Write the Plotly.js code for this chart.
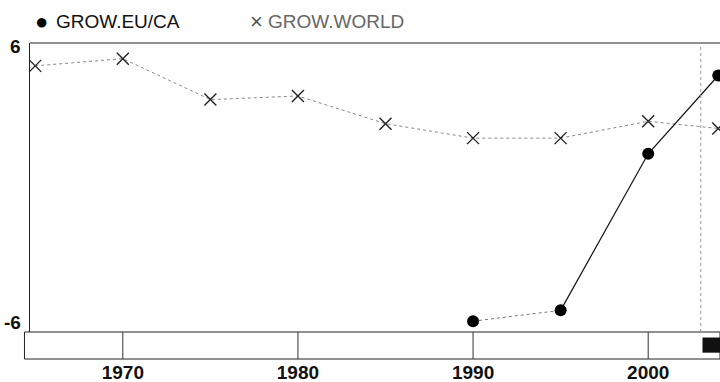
<!DOCTYPE html>
<html>
<head>
<meta charset="utf-8">
<script src="https://cdn.plot.ly/plotly-3.0.1.min.js"></script>
<style>html,body{margin:0;padding:0;background:#fff;}#chart{width:720px;height:382px;}</style>
</head>
<body>
<div id="chart"></div>
<script>
const worldYears = [1965, 1970, 1975, 1980, 1985, 1990, 1995, 2000, 2004];
const worldValues = [5.05, 5.35, 3.65, 3.8, 2.65, 2.05, 2.05, 2.75, 2.45];
const euYears = [1990, 1995, 2000, 2004];
const euValues = [-5.55, -5.1, 1.4, 4.65];
const xTicks = [1970, 1980, 1990, 2000];
const yTicks = [-6, 6];
const legendLabels = ["GROW.EU/CA", "GROW.WORLD"];

const bandTop = 0.0854;
const traces = [
  {x: worldYears, y: worldValues, mode: 'lines+markers', showlegend: false,
   line: {color: '#888', width: 1, dash: 'dot'},
   marker: {symbol: 'x-thin', size: 12, line: {color: '#222', width: 1.4}}},
  {x: euYears.slice(0, 2), y: euValues.slice(0, 2), mode: 'lines', showlegend: false,
   line: {color: '#777', width: 1, dash: 'dot'}},
  {x: euYears.slice(1), y: euValues.slice(1), mode: 'lines+markers', showlegend: false,
   line: {color: '#111', width: 1.2},
   marker: {symbol: 'circle', size: 12, color: '#000'}},
  {x: euYears.slice(0, 1), y: euValues.slice(0, 1), mode: 'markers', showlegend: false,
   marker: {symbol: 'circle', size: 12, color: '#000'}}
];

const shapes = [
  {type: 'rect', xref: 'paper', yref: 'paper', x0: -0.008, x1: 1.0, y0: 0, y1: bandTop,
   line: {color: '#222', width: 1}},
  {type: 'line', xref: 'paper', yref: 'paper', x0: 0, x1: 1, y0: 1, y1: 1,
   line: {color: '#222', width: 1.2}},
  {type: 'line', xref: 'x', yref: 'paper', x0: 2003, x1: 2003, y0: bandTop, y1: 1,
   line: {color: '#999', width: 1, dash: 'dot'}},
  {type: 'rect', xref: 'x', yref: 'paper', x0: 2003.1, x1: 2004.1, y0: 0.02, y1: 0.068,
   fillcolor: '#111', line: {width: 0}}
];
xTicks.forEach(t => shapes.push({type: 'line', xref: 'x', yref: 'paper', x0: t, x1: t, y0: 0, y1: bandTop,
  line: {color: '#333', width: 1}}));

const annotations = [
  {xref: 'paper', yref: 'paper', x: 0.017, y: 1.0, yshift: 22, xanchor: 'center', yanchor: 'middle', showarrow: false,
   text: '●', font: {size: 22, color: '#000'}},
  {xref: 'paper', yref: 'paper', x: 0.035, y: 1.0, yshift: 22, xanchor: 'left', yanchor: 'middle', showarrow: false,
   text: legendLabels[0], font: {size: 19, color: '#111'}},
  {xref: 'paper', yref: 'paper', x: 0.328, y: 1.0, yshift: 22, xanchor: 'center', yanchor: 'middle', showarrow: false,
   text: '×', font: {size: 22, color: '#555'}},
  {xref: 'paper', yref: 'paper', x: 0.342, y: 1.0, yshift: 22, xanchor: 'left', yanchor: 'middle', showarrow: false,
   text: legendLabels[1], font: {size: 19, color: '#666'}}
];
yTicks.forEach(v => annotations.push({xref: 'paper', yref: 'y', x: 0, y: v, xshift: -7,
  yshift: v > 0 ? -3 : 10, xanchor: 'right', yanchor: 'middle', showarrow: false,
  text: String(v), font: {size: 19, color: '#111', weight: 'bold'}}));

const layout = {
  width: 720, height: 382,
  margin: {l: 30, r: 0, t: 43, b: 23},
  paper_bgcolor: '#fff', plot_bgcolor: '#fff',
  showlegend: false,
  font: {family: 'Liberation Sans, Arial, sans-serif', color: '#111'},
  xaxis: {range: [1964.7, 2004.1], tickvals: xTicks, ticktext: xTicks.map(String),
    showgrid: false, zeroline: false, showline: false, ticks: '',
    anchor: 'free', position: 0,
    tickfont: {size: 19, color: '#111', weight: 'bold'}},
  yaxis: {range: [-6, 6], domain: [bandTop, 1], tickvals: yTicks, showticklabels: false,
    showgrid: false, zeroline: false, showline: true, linecolor: '#222', linewidth: 1.3,
    ticks: ''},
  shapes: shapes,
  annotations: annotations
};

Plotly.newPlot('chart', traces, layout, {displayModeBar: false, staticPlot: true});
</script>
</body>
</html>
